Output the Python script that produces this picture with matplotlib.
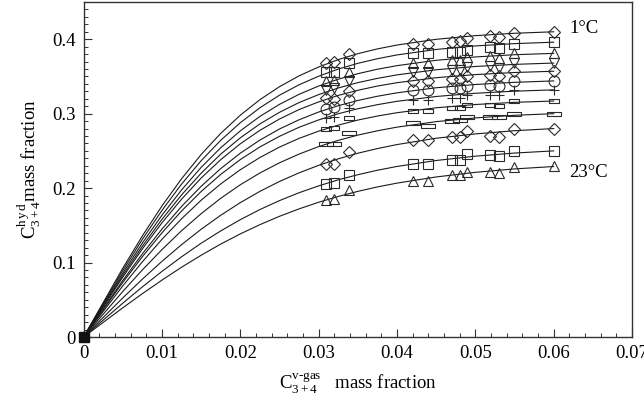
import numpy as np
import matplotlib.pyplot as plt

plt.rcParams['font.family'] = 'Liberation Serif'
plt.rcParams['mathtext.fontset'] = 'custom'
plt.rcParams['mathtext.rm'] = 'Liberation Serif'
plt.rcParams['mathtext.it'] = 'Liberation Serif:italic'

# gas-phase C3+4 mass fraction of the measured points
x_meas = [0.0310, 0.0320, 0.0339, 0.0420, 0.0439, 0.0470, 0.0481, 0.0489, 0.0519, 0.0530, 0.0549, 0.0600]

# hydrate C3+4 mass fraction, one list per temperature
meas_1C = [0.368, 0.369, 0.380, 0.393, 0.393, 0.396, 0.397, 0.402, 0.405, 0.403, 0.408, 0.410]
meas_3C = [0.356, 0.356, 0.368, 0.381, 0.381, 0.383, 0.383, 0.386, 0.390, 0.388, 0.394, 0.396]
meas_5C = [0.344, 0.345, 0.356, 0.368, 0.368, 0.372, 0.372, 0.376, 0.377, 0.375, 0.381, 0.381]
meas_7C = [0.332, 0.334, 0.344, 0.356, 0.356, 0.359, 0.359, 0.363, 0.364, 0.362, 0.368, 0.368]
meas_9C = [0.321, 0.320, 0.331, 0.344, 0.344, 0.347, 0.347, 0.351, 0.352, 0.350, 0.357, 0.357]
meas_11C = [0.306, 0.309, 0.319, 0.332, 0.332, 0.335, 0.334, 0.337, 0.338, 0.337, 0.344, 0.344]
meas_13C = [0.294, 0.296, 0.307, 0.319, 0.319, 0.321, 0.321, 0.325, 0.325, 0.325, 0.332, 0.332]
meas_15C = [0.279, 0.281, 0.294, 0.303, 0.303, 0.307, 0.307, 0.312, 0.312, 0.310, 0.317, 0.317]
meas_17C = [0.259, 0.259, 0.274, 0.287, 0.284, 0.290, 0.291, 0.296, 0.296, 0.295, 0.300, 0.300]
meas_19C = [0.233, 0.233, 0.249, 0.265, 0.265, 0.269, 0.268, 0.277, 0.270, 0.268, 0.280, 0.280]
meas_21C = [0.205, 0.207, 0.218, 0.233, 0.233, 0.238, 0.238, 0.246, 0.245, 0.243, 0.250, 0.250]
meas_23C = [0.184, 0.185, 0.197, 0.209, 0.209, 0.217, 0.217, 0.221, 0.222, 0.220, 0.229, 0.230]

# model curves
x_fit = [0.0, 0.005, 0.0075, 0.010, 0.0125, 0.015, 0.0175, 0.020, 0.0225, 0.025, 0.0275,
         0.030, 0.0325, 0.035, 0.0375, 0.040, 0.045, 0.050, 0.055, 0.060]
fit_1C = [0, 0.0923, 0.1358, 0.1760, 0.2125, 0.2451, 0.2735, 0.2979, 0.3188, 0.3362, 0.3508,
          0.3627, 0.3726, 0.3806, 0.3870, 0.3922, 0.3999, 0.4048, 0.4080, 0.4100]
fit_3C = [0, 0.0892, 0.1312, 0.1700, 0.2053, 0.2368, 0.2642, 0.2878, 0.3079, 0.3248, 0.3388,
          0.3503, 0.3599, 0.3676, 0.3738, 0.3789, 0.3863, 0.3910, 0.3941, 0.3960]
fit_5C = [0, 0.0858, 0.1262, 0.1636, 0.1975, 0.2278, 0.2542, 0.2769, 0.2963, 0.3125, 0.3260,
          0.3371, 0.3463, 0.3537, 0.3597, 0.3645, 0.3717, 0.3762, 0.3792, 0.3810]
fit_7C = [0, 0.0829, 0.1219, 0.1580, 0.1908, 0.2200, 0.2456, 0.2675, 0.2862, 0.3018, 0.3149,
          0.3256, 0.3345, 0.3417, 0.3474, 0.3521, 0.3590, 0.3634, 0.3662, 0.3680]
fit_9C = [0, 0.0804, 0.1183, 0.1533, 0.1851, 0.2135, 0.2382, 0.2595, 0.2776, 0.2928, 0.3055,
          0.3158, 0.3245, 0.3314, 0.3371, 0.3416, 0.3483, 0.3525, 0.3553, 0.3570]
fit_11C = [0, 0.0759, 0.1117, 0.1449, 0.1753, 0.2024, 0.2262, 0.2469, 0.2645, 0.2794, 0.2918,
           0.3022, 0.3107, 0.3177, 0.3234, 0.3280, 0.3348, 0.3392, 0.3421, 0.3440]
fit_13C = [0, 0.0733, 0.1078, 0.1399, 0.1692, 0.1954, 0.2184, 0.2383, 0.2553, 0.2696, 0.2817,
           0.2916, 0.2999, 0.3066, 0.3121, 0.3166, 0.3231, 0.3274, 0.3302, 0.3320]
fit_15C = [0, 0.0686, 0.1010, 0.1312, 0.1588, 0.1837, 0.2056, 0.2247, 0.2411, 0.2551, 0.2668,
           0.2765, 0.2846, 0.2914, 0.2968, 0.3013, 0.3079, 0.3123, 0.3152, 0.3170]
fit_17C = [0, 0.0611, 0.0901, 0.1174, 0.1427, 0.1656, 0.1863, 0.2045, 0.2203, 0.2340, 0.2457,
           0.2558, 0.2641, 0.2712, 0.2770, 0.2819, 0.2893, 0.2943, 0.2978, 0.3000]
fit_19C = [0, 0.0525, 0.0777, 0.1016, 0.1240, 0.1447, 0.1635, 0.1805, 0.1956, 0.2089, 0.2205,
           0.2306, 0.2393, 0.2469, 0.2531, 0.2585, 0.2670, 0.2728, 0.2771, 0.2800]
fit_21C = [0, 0.0454, 0.0673, 0.0881, 0.1077, 0.1259, 0.1425, 0.1576, 0.1712, 0.1832, 0.1938,
           0.2030, 0.2111, 0.2180, 0.2240, 0.2291, 0.2371, 0.2429, 0.2471, 0.2500]
fit_23C = [0, 0.0392, 0.0582, 0.0764, 0.0937, 0.1098, 0.1248, 0.1385, 0.1509, 0.1621, 0.1721,
           0.1810, 0.1888, 0.1956, 0.2016, 0.2067, 0.2150, 0.2212, 0.2258, 0.2290]

measured = [meas_1C, meas_3C, meas_5C, meas_7C, meas_9C, meas_11C,
            meas_13C, meas_15C, meas_17C, meas_19C, meas_21C, meas_23C]
fitted = [fit_1C, fit_3C, fit_5C, fit_7C, fit_9C, fit_11C,
          fit_13C, fit_15C, fit_17C, fit_19C, fit_21C, fit_23C]

small_bar = [(-1, -0.4), (1, -0.4), (1, 0.4), (-1, 0.4), (-1, -0.4)]
wide_bar = [(-1, -0.28), (1, -0.28), (1, 0.28), (-1, 0.28), (-1, -0.28)]
markers = ['D', 's', '^', 'v', 'D', 'o', '+', small_bar, wide_bar, 'D', 's', '^']
sizes = [6.3, 7.0, 7.8, 7.8, 6.3, 7.8, 7.8, 6.8, 10.5, 6.3, 7.0, 7.8]

fig = plt.figure(figsize=(6.44, 4.01), dpi=100)
ax = fig.add_axes([0.1298, 0.1596, 0.8516, 0.8354])

for yf, ym, mk, ms in zip(fitted, measured, markers, sizes):
    ax.plot(x_fit, yf, color='#1a1a1a', lw=0.8)
    ax.plot(x_meas, ym, ls='none', marker=mk, ms=ms, mfc='none', mec='#2a2a2a', mew=0.8)

# all curves start from the origin
ax.plot([0], [0], marker='s', ms=6.5, color='#111111', ls='none', clip_on=False, zorder=5)

ax.text(0.0620, 0.415, '1°C', fontsize=13.5, ha='left', va='center')
ax.text(0.0620, 0.2215, '23°C', fontsize=13.5, ha='left', va='center')

ax.set_xlim(0, 0.07)
ax.set_ylim(0, 0.45)
ax.set_xticks(np.arange(0, 0.071, 0.01))
ax.set_xticklabels(['0', '0.01', '0.02', '0.03', '0.04', '0.05', '0.06', '0.07'])
ax.set_xticks(np.arange(0, 0.0701, 0.002), minor=True)
ax.set_yticks(np.arange(0, 0.41, 0.1))
ax.set_yticklabels(['0', '0.1', '0.2', '0.3', '0.4'])
ax.set_yticks(np.arange(0, 0.4501, 0.01), minor=True)
ax.tick_params(which='both', direction='in', top=False, right=False, labelsize=13.5, color='#333333')
ax.tick_params(which='major', length=5.5, width=0.8, pad=6)
ax.tick_params(which='minor', length=3, width=0.7)
for sp in ax.spines.values():
    sp.set_linewidth(1.0)
    sp.set_color('#333333')

ax.set_xlabel(r'$\mathregular{C^{\text{v-gas}}_{3+4}}$   mass fraction', fontsize=13.5, labelpad=6)
ax.set_ylabel(r'$\mathregular{C^{h\,y\,d}_{3+4}}$mass fraction', fontsize=13.5, labelpad=6)

fig.savefig('out.png', dpi=100)
